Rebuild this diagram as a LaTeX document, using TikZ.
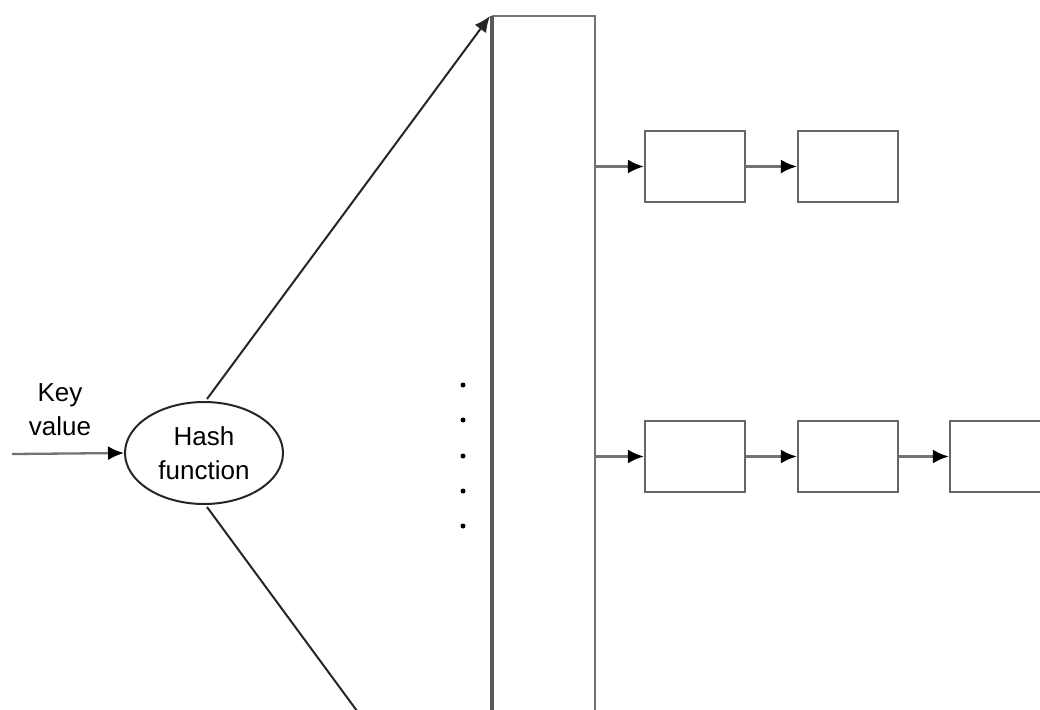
\documentclass[tikz,border=0pt]{standalone}
\usepackage{fontspec}
\setmainfont{Liberation Sans}
\usetikzlibrary{arrows.meta,shapes.geometric}
\begin{document}
\begin{tikzpicture}[x=1pt,y=-1pt,
  line/.style={line width=2.3pt,draw=black!55},
  arr/.style={line, -{Latex[length=16pt,width=14pt,color=black]}},
  cell/.style={draw=black!60,line width=2.3pt,minimum width=100pt,minimum height=71pt,inner sep=0pt},
  lbl/.style={font=\fontsize{26}{34}\selectfont,align=center,inner sep=0pt},
  dot/.style={circle,fill=black,inner sep=0pt,minimum size=5pt}]
\clip (0,0) rectangle (1040,709);
\fill[white] (0,0) rectangle (1040,709);
% table column
\coordinate (ttl) at (492,16);
\coordinate (ttr) at (595,16);
\coordinate (tbl) at (492,720);
\coordinate (tbr) at (595,720);
\draw[line] (tbr) -- (ttr) -- (ttl);
\draw[line width=3.2pt,draw=black!65] (ttl) -- (tbl);
% hash function
\node[ellipse,draw=black!85,line width=2pt,minimum width=158pt,minimum height=102pt,lbl] (hash) at (204,453) {Hash\\function};
\node[lbl] (key) at (60,410) {Key\\value};
\coordinate (in) at (12,454);
\draw[arr] (in) -- (hash.west);
\coordinate (top) at (490,16);
\coordinate (bot) at (360,715);
\draw[line width=2pt,draw=black!85,-{Latex[length=16pt,width=14pt]}] (hash.north) ++(3,-2) coordinate (hn) -- (top);
\draw[line width=2pt,draw=black!85] (hash.south) ++(3,2) coordinate (hs) -- (bot);
% dots
\foreach \i/\y in {1/385,2/420,3/456,4/491,5/526}
  \node[dot] (d\i) at (463,\y) {};
% chains
\node[cell] (a1) at (695,166.5) {};
\node[cell] (a2) at (848,166.5) {};
\node[cell] (b1) at (695,456.5) {};
\node[cell] (b2) at (848,456.5) {};
\node[cell] (b3) at (1000,456.5) {};
\coordinate (ra) at (595,166.5);
\coordinate (rb) at (595,456.5);
\draw[arr] (ra) -- (a1.west);
\draw[arr] (a1) -- (a2);
\draw[arr] (rb) -- (b1.west);
\draw[arr] (b1) -- (b2);
\draw[arr] (b2) -- (b3);
\end{tikzpicture}
\end{document}
